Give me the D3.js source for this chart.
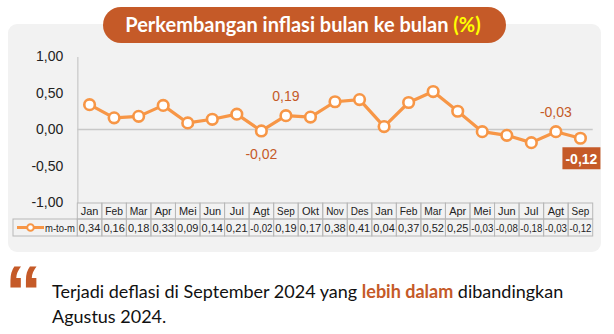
<!DOCTYPE html>
<html>
<head>
<meta charset="utf-8">
<script src="https://cdn.jsdelivr.net/npm/d3@7/dist/d3.min.js"></script>
<style>
  html, body { margin: 0; padding: 0; background: #ffffff; }
  svg { display: block; }
</style>
</head>
<body>
<svg id="chart" width="614" height="334"></svg>
<script>
// Monthly inflation (m-to-m, %), Jan 2023 – Sep 2024
const months = ["Jan","Feb","Mar","Apr","Mei","Jun","Jul","Agt","Sep","Okt","Nov","Des",
                "Jan","Feb","Mar","Apr","Mei","Jun","Jul","Agt","Sep"];
const mtm = [0.34,0.16,0.18,0.33,0.09,0.14,0.21,-0.02,0.19,0.17,0.38,0.41,
             0.04,0.37,0.52,0.25,-0.03,-0.08,-0.18,-0.03,-0.12];
const yTicks = [1, 0.5, 0, -0.5, -1];
// Points that carry a value label: index -> placement
const labelled = [{i: 7, pos: "below"}, {i: 8, pos: "above"}, {i: 19, pos: "above"}, {i: 20, pos: "box"}];

const fmt = v => d3.format(".2f")(v).replace(".", ",").replace("−", "-");

const svg = d3.select("#chart");
const ORANGE = "#f79646";
const RUST = "#c55a28";

// background panel
svg.append("rect").attr("x", 8).attr("y", 24).attr("width", 593).attr("height", 228)
  .attr("rx", 9).attr("fill", "#f2f2f2");

// title pill
svg.append("rect").attr("x", 103).attr("y", 7).attr("width", 403).attr("height", 36)
  .attr("rx", 18).attr("fill", RUST);
const title = svg.append("text").attr("x", 303).attr("y", 32).attr("text-anchor", "middle")
  .attr("font-family", "Lato, 'Open Sans', sans-serif").attr("font-weight", "bold")
  .attr("font-size", 20).attr("fill", "#ffffff");
title.append("tspan").text("Perkembangan inflasi bulan ke bulan ");
title.append("tspan").attr("fill", "#ffff00").text("(%)");

// scales
const x0 = 77.3, x1 = 592.7;
const band = d3.scaleBand().domain(d3.range(months.length)).range([x0, x1]);
const xc = i => band(i) + band.bandwidth() / 2;
const y = d3.scaleLinear().domain([-1, 1]).range([202.5, 56.5]);

// y axis labels
const yAxis = d3.axisLeft(y).tickValues(yTicks).tickFormat(fmt).tickSize(0).tickPadding(14);
const gy = svg.append("g").attr("transform", `translate(${x0},0)`).call(yAxis);
gy.select(".domain").attr("stroke", "#d0d0d0").attr("stroke-width", 1.5);
gy.selectAll("text").attr("font-family", "'Liberation Sans', Arial, sans-serif")
  .attr("font-size", 14).attr("fill", "#222");

// zero line
svg.append("line").attr("x1", x0).attr("x2", x1).attr("y1", y(0)).attr("y2", y(0))
  .attr("stroke", "#c8c8c8").attr("stroke-width", 1.5);

// line + markers
const line = d3.line().x((d, i) => xc(i)).y(d => y(d));
svg.append("path").datum(mtm).attr("d", line).attr("fill", "none")
  .attr("stroke", ORANGE).attr("stroke-width", 3.2).attr("stroke-linejoin", "round");
svg.selectAll("circle.pt").data(mtm).join("circle").attr("class", "pt")
  .attr("cx", (d, i) => xc(i)).attr("cy", d => y(d)).attr("r", 5.3)
  .attr("fill", "#ffffff").attr("stroke", ORANGE).attr("stroke-width", 2.6);

// value labels
labelled.forEach(({i, pos}) => {
  const v = mtm[i], cx = xc(i), cy = y(v);
  if (pos === "box") {
    svg.append("rect").attr("x", cx - 18).attr("y", cy + 9).attr("width", 38).attr("height", 22)
      .attr("fill", RUST);
    svg.append("text").attr("x", cx + 1).attr("y", cy + 26).attr("text-anchor", "middle")
      .attr("font-family", "'Liberation Sans', Arial, sans-serif").attr("font-weight", "bold")
      .attr("font-size", 14).attr("fill", "#ffffff").text(fmt(v));
  } else {
    svg.append("text").attr("x", cx).attr("y", pos === "above" ? cy - 15 : cy + 28)
      .attr("text-anchor", "middle")
      .attr("font-family", "'Liberation Sans', Arial, sans-serif")
      .attr("font-size", 14).attr("fill", RUST).text(fmt(v));
  }
});

// data table under the chart
const tTop = 203, tMid = 219, tBot = 236, legX = 13;
const tbl = svg.append("g");
const gridColor = "#b8b8b8";
const cellFont = "'Liberation Sans', Arial, sans-serif";
// squeeze a cell label horizontally when it is wider than its cell
const fitText = (sel, maxW) => sel.each(function() {
  const w = this.getComputedTextLength();
  if (w > maxW) d3.select(this).attr("textLength", maxW).attr("lengthAdjust", "spacingAndGlyphs");
});
months.forEach((m, i) => {
  const bx = band(i), bw = band.bandwidth();
  tbl.append("rect").attr("x", bx).attr("y", tTop).attr("width", bw).attr("height", tMid - tTop)
    .attr("fill", "none").attr("stroke", gridColor).attr("stroke-width", 1);
  tbl.append("rect").attr("x", bx).attr("y", tMid).attr("width", bw).attr("height", tBot - tMid)
    .attr("fill", "none").attr("stroke", gridColor).attr("stroke-width", 1);
  tbl.append("text").attr("x", bx + bw / 2).attr("y", tMid - 4).attr("text-anchor", "middle")
    .attr("font-family", cellFont).attr("font-size", 11).attr("fill", "#222").text(m)
    .call(fitText, bw * 0.72);
  tbl.append("text").attr("x", bx + bw / 2).attr("y", tBot - 4).attr("text-anchor", "middle")
    .attr("font-family", cellFont).attr("font-size", 11).attr("fill", "#222").text(fmt(mtm[i]))
    .call(fitText, bw - 2.5);
});
tbl.append("rect").attr("x", legX).attr("y", tMid).attr("width", x0 - legX).attr("height", tBot - tMid)
  .attr("fill", "none").attr("stroke", gridColor).attr("stroke-width", 1);
tbl.append("line").attr("x1", legX + 4).attr("x2", legX + 31).attr("y1", (tMid + tBot) / 2)
  .attr("y2", (tMid + tBot) / 2).attr("stroke", ORANGE).attr("stroke-width", 3);
tbl.append("circle").attr("cx", legX + 17.5).attr("cy", (tMid + tBot) / 2).attr("r", 3.3)
  .attr("fill", "#fff").attr("stroke", ORANGE).attr("stroke-width", 2);
tbl.append("text").attr("x", legX + 32).attr("y", tBot - 4)
  .attr("font-family", cellFont).attr("font-size", 11).attr("fill", "#222").text("m-to-m")
  .call(fitText, 30);

// closing note with quote mark
svg.append("text").attr("x", 5).attr("y", 317)
  .attr("font-family", "'Liberation Sans', Arial, sans-serif").attr("font-weight", "bold")
  .attr("font-size", 74).attr("fill", RUST).text("\u201C");
const note = svg.append("text").attr("font-family", "Lato, 'Open Sans', sans-serif")
  .attr("font-size", 18).attr("fill", "#111");
const l1 = note.append("tspan").attr("x", 52).attr("y", 298);
l1.append("tspan").text("Terjadi deflasi di September 2024 yang ");
l1.append("tspan").attr("fill", RUST).attr("font-weight", "bold").text("lebih dalam");
l1.append("tspan").text(" dibandingkan");
note.append("tspan").attr("x", 52).attr("y", 323).text("Agustus 2024.");
</script>
</body>
</html>
